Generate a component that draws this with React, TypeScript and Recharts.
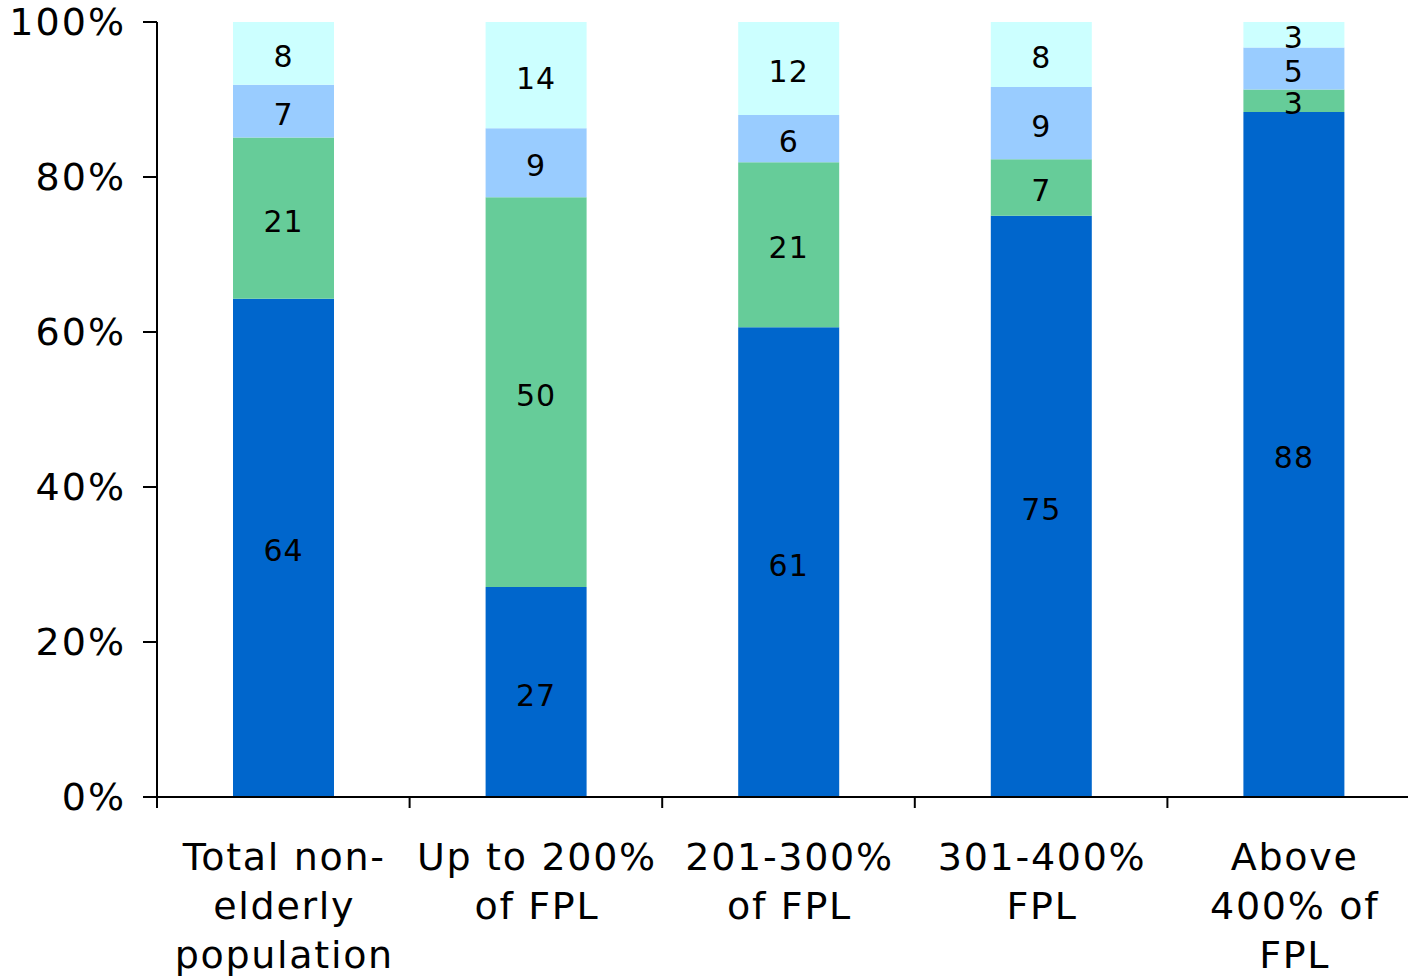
import React from "react";
import { BarChart, Bar, XAxis, YAxis, LabelList } from "recharts";

const categories = [
  "Total non-elderly population",
  "Up to 200% of FPL",
  "201-300% of FPL",
  "301-400% FPL",
  "Above 400% of FPL",
];
const categoryLines = [
  ["Total non-", "elderly", "population"],
  ["Up to 200%", "of FPL"],
  ["201-300%", "of FPL"],
  ["301-400%", "FPL"],
  ["Above", "400% of", "FPL"],
];
const blueValues = [64.3, 27.1, 60.6, 75.0, 88.4];
const greenValues = [20.8, 50.3, 21.3, 7.3, 2.9];
const lightBlueValues = [6.8, 8.9, 6.1, 9.3, 5.4];
const cyanValues = [8.1, 13.7, 12.0, 8.4, 3.3];
const yTicks = [0, 20, 40, 60, 80, 100];

const data = categories.map((name, i) => ({
  name,
  blue: blueValues[i],
  green: greenValues[i],
  lightBlue: lightBlueValues[i],
  cyan: cyanValues[i],
}));

const FONT = "DejaVu Sans";

const XTick = (props: any) => {
  const { x, y, payload, index, width, visibleTicksCount } = props;
  const half =
    payload && typeof payload.offset === "number" && payload.offset > 0
      ? payload.offset
      : width / visibleTicksCount / 2;
  const idx = categories.indexOf(payload.value);
  const lines = categoryLines[idx] || [String(payload.value)];
  return (
    <g>
      <line x1={x - half} x2={x - half} y1={y} y2={y + 11} stroke="#000" strokeWidth={2} />
      {index === categories.length - 1 && (
        <line x1={x + half} x2={x + half} y1={y} y2={y + 11} stroke="#000" strokeWidth={2} />
      )}
      <text
        textAnchor="middle"
        fontFamily={FONT}
        fontSize={38}
        fill="#000"
        style={{ letterSpacing: "1.7px" }}
      >
        {lines.map((l, i) => (
          <tspan key={i} x={x + 1} y={y + 73 + i * 49}>
            {l}
          </tspan>
        ))}
      </text>
    </g>
  );
};

const labelProps = {
  position: "center" as const,
  formatter: (v: any) => Math.round(Number(v)),
  fill: "#000",
  fontSize: 30,
  fontFamily: FONT,
  dy: 3,
  style: { letterSpacing: "1px" },
};

export default function App() {
  return (
    <div
      style={{
        position: "absolute",
        left: 0,
        top: 0,
        width: 1408,
        height: 976,
        overflow: "hidden",
        background: "#fff",
      }}
    >
      <BarChart
        width={1420}
        height={976}
        data={data}
        margin={{ top: 22, right: 0, bottom: 0, left: 0 }}
        barSize={101}
      >
        <XAxis
          dataKey="name"
          height={179}
          axisLine={{ stroke: "#000", strokeWidth: 2 }}
          tickLine={false}
          tickSize={0}
          tickMargin={0}
          interval={0}
          tick={<XTick />}
        />
        <YAxis
          width={157}
          domain={[0, 100]}
          ticks={yTicks}
          interval={0}
          tickFormatter={(v: number) => `${v}%`}
          axisLine={{ stroke: "#000", strokeWidth: 2 }}
          tickLine={{ stroke: "#000", strokeWidth: 2 }}
          tickSize={14}
          tickMargin={17}
          tick={{ fontSize: 38, fill: "#000", fontFamily: FONT, style: { letterSpacing: "2px" } }}
        />
        <Bar dataKey="blue" stackId="a" fill="#0066CC" isAnimationActive={false}>
          <LabelList dataKey="blue" {...labelProps} />
        </Bar>
        <Bar dataKey="green" stackId="a" fill="#66CC99" isAnimationActive={false}>
          <LabelList dataKey="green" {...labelProps} />
        </Bar>
        <Bar dataKey="lightBlue" stackId="a" fill="#99CCFF" isAnimationActive={false}>
          <LabelList dataKey="lightBlue" {...labelProps} />
        </Bar>
        <Bar dataKey="cyan" stackId="a" fill="#CCFFFF" isAnimationActive={false}>
          <LabelList dataKey="cyan" {...labelProps} />
        </Bar>
      </BarChart>
    </div>
  );
}
